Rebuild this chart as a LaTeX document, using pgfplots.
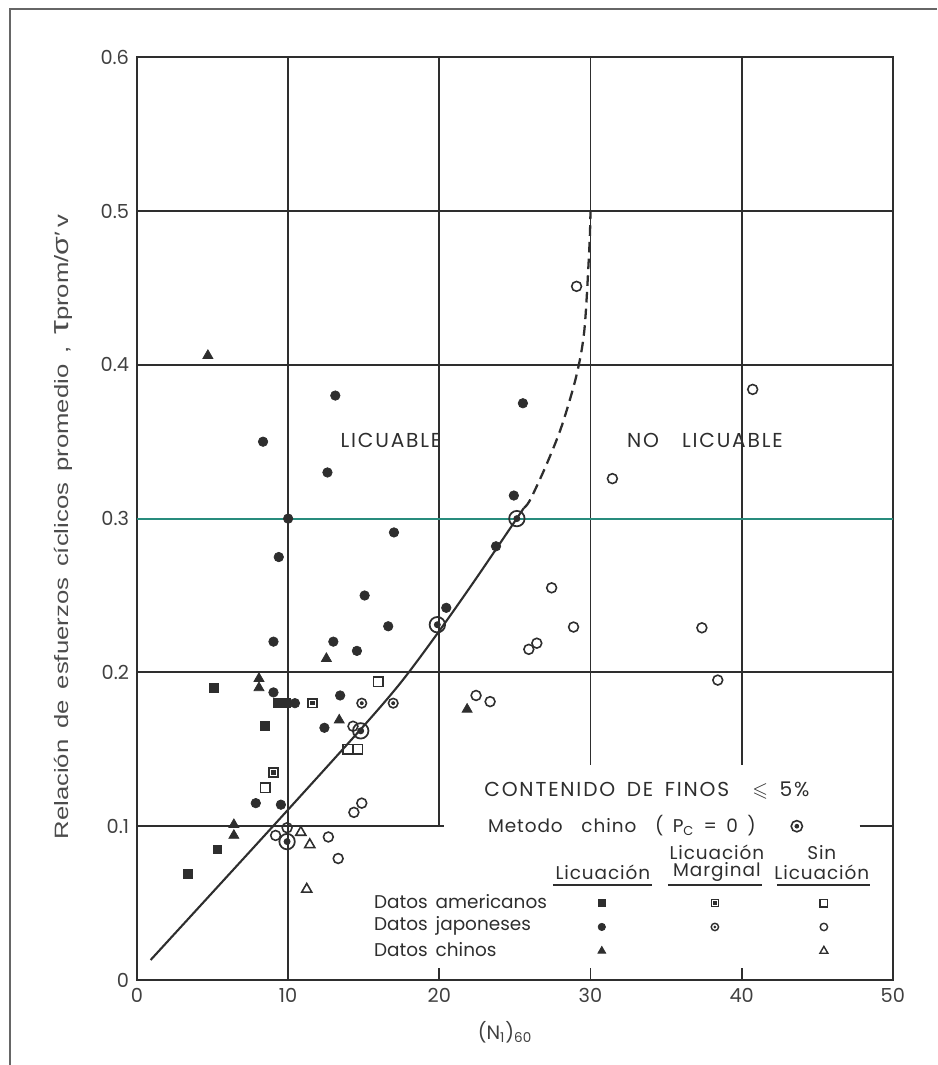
\documentclass[border=0pt]{standalone}
\usepackage{pgfplots}
\pgfplotsset{compat=1.18}
\usepackage{amssymb}
\usepackage{graphicx}
\usepackage{fontspec}
\setmainfont{Poppins}
\newfontfamily\legfont{Poppins}[WordSpace=1.6]
\newfontfamily\capfont{Poppins}[WordSpace=1.6, LetterSpace=9]
\newfontfamily\hdfont{Poppins}[WordSpace=1.6, LetterSpace=5]
\newfontfamily\labfont{Liberation Sans}
\definecolor{ink}{gray}{0.18}
\definecolor{tealline}{RGB}{40,140,125}
\pgfdeclareplotmark{odot}{%
  \pgfpathcircle{\pgfpoint{0pt}{0pt}}{\pgfplotmarksize}\pgfusepathqstroke
  \pgfpathcircle{\pgfpoint{0pt}{0pt}}{0.42\pgfplotmarksize}\pgfusepathqfill}
\pgfdeclareplotmark{sqdot}{%
  \pgfpathrectangle{\pgfpoint{-\pgfplotmarksize}{-\pgfplotmarksize}}{\pgfpoint{2\pgfplotmarksize}{2\pgfplotmarksize}}\pgfusepathqstroke
  \pgfpathrectangle{\pgfpoint{-0.5\pgfplotmarksize}{-0.5\pgfplotmarksize}}{\pgfpoint{\pgfplotmarksize}{\pgfplotmarksize}}\pgfusepathqfill}
\pgfdeclareplotmark{chino}{%
  \pgfpathcircle{\pgfpoint{0pt}{0pt}}{\pgfplotmarksize}\pgfusepathqstroke
  \pgfpathcircle{\pgfpoint{0pt}{0pt}}{0.45\pgfplotmarksize}\pgfusepathqfill}
\tikzset{
  gridl/.style={line width=1.1pt, ink},
  jliq/.style={only marks, mark=*, mark size=2.7pt, ink},
  jmar/.style={only marks, mark=odot, mark size=2.7pt, ink, mark options={line width=0.9pt}},
  jno/.style={only marks, mark=o, mark size=2.8pt, ink, mark options={line width=0.9pt}},
  aliq/.style={only marks, mark=square*, mark size=2.5pt, ink},
  amar/.style={only marks, mark=sqdot, mark size=2.5pt, ink, mark options={line width=0.9pt}},
  ano/.style={only marks, mark=square, mark size=2.7pt, ink, mark options={line width=0.9pt}},
  cliq/.style={only marks, mark=triangle*, mark size=3.3pt, ink},
  cno/.style={only marks, mark=triangle, mark size=3.3pt, ink, mark options={line width=0.9pt}},
  cmet/.style={only marks, mark=chino, mark size=4.4pt, ink, mark options={line width=1pt}},
  leg/.style={font=\legfont\fontsize{10.5}{12}\selectfont, text=ink},
  hd/.style={font=\hdfont\fontsize{10.5}{12}\selectfont, text=ink},
}
\begin{document}
\begin{tikzpicture}[x=0.02cm,y=0.02cm]
\useasboundingbox (0,0) rectangle (937,1065);
\draw[line width=0.8pt, black!60] (10,0) -- (10,1056) -- (937,1056);
\begin{axis}[
  at={(2.74cm,1.7cm)}, anchor=south west,
  scale only axis, width=15.12cm, height=18.46cm,
  xmin=0, xmax=50, ymin=0, ymax=0.6,
  xtick={0,10,20,30,40,50},
  ytick={0,0.1,0.2,0.3,0.4,0.5,0.6},
  yticklabels={0,0.1,0.2,0.3,0.4,0.5,0.6},
  major tick length=0pt,
  axis line style={line width=1.4pt, ink},
  /pgf/number format/assume math mode=true,
  tick label style={font=\legfont\fontsize{11}{13}\selectfont, text=black!75},
  xticklabel style={yshift=-1pt},
  yticklabel style={xshift=-1pt},
  clip=false,
]
% grid
\draw[gridl] (axis cs:10,0) -- (axis cs:10,0.6);
\draw[gridl] (axis cs:20,0.1) -- (axis cs:20,0.6);
\draw[gridl] (axis cs:30,0.14) -- (axis cs:30,0.6);
\draw[gridl] (axis cs:40,0.14) -- (axis cs:40,0.6);
\draw[gridl] (axis cs:20,0) -- (axis cs:20,0.008);
\draw[gridl] (axis cs:30,0) -- (axis cs:30,0.008);
\draw[gridl] (axis cs:40,0) -- (axis cs:40,0.008);
\draw[gridl] (axis cs:0,0.1) -- (axis cs:20.3,0.1);
\draw[gridl] (axis cs:47.8,0.1) -- (axis cs:50,0.1);
\draw[gridl] (axis cs:0,0.2) -- (axis cs:50,0.2);
\draw[line width=1.1pt, tealline] (axis cs:0,0.3) -- (axis cs:50,0.3);
\draw[gridl] (axis cs:0,0.4) -- (axis cs:50,0.4);
\draw[gridl] (axis cs:0,0.5) -- (axis cs:50,0.5);

% boundary curve
\addplot[smooth, line width=1.2pt, ink] coordinates {
 (0.9,0.013) (9.0,0.100) (14.8,0.163) (17.5,0.194) (20.0,0.227) (22.5,0.262) (25.6,0.307)};
\addplot[smooth, line width=1.3pt, ink, dash pattern=on 6pt off 3.5pt] coordinates {
 (25.6,0.307) (26.0,0.312) (27.04,0.334) (28.09,0.360) (29.07,0.393) (29.6,0.423) (29.93,0.477) (30.0,0.5)};

% Japanese - liquefaction
\addplot[jliq] coordinates {
 (13.12,0.380) (8.34,0.350) (12.60,0.330) (10.0,0.300) (17.0,0.291) (23.75,0.282)
 (9.38,0.275) (15.06,0.250) (20.46,0.242) (16.62,0.230) (9.03,0.220) (12.99,0.220)
 (14.55,0.214) (9.03,0.187) (13.44,0.185) (12.40,0.164) (7.86,0.115) (9.52,0.114)
 (25.53,0.375) (24.93,0.315) (10.45,0.180)};
% Japanese - marginal
\addplot[jmar] coordinates {(14.87,0.180) (16.95,0.180)};
% Japanese - no liquefaction
\addplot[jno] coordinates {
 (29.08,0.451) (40.73,0.384) (31.45,0.326) (27.43,0.255) (28.88,0.2295) (25.92,0.215)
 (26.45,0.219) (37.37,0.229) (38.42,0.195) (22.43,0.185) (23.36,0.181) (14.29,0.165)
 (14.35,0.109) (14.87,0.115) (9.17,0.094) (9.93,0.099) (12.66,0.093) (13.31,0.079)};
% American - liquefaction
\addplot[aliq] coordinates {
 (5.10,0.190) (8.48,0.165) (9.31,0.180) (9.86,0.180) (5.31,0.085) (3.38,0.069)};
% American - marginal
\addplot[amar] coordinates {(11.62,0.180) (9.03,0.135)};
% American - no liquefaction
\addplot[ano] coordinates {(15.97,0.194) (13.96,0.150) (14.61,0.150) (8.48,0.125)};
% Chinese - liquefaction
\addplot[cliq] coordinates {
 (4.69,0.406) (12.53,0.209) (8.07,0.196) (8.07,0.190) (13.38,0.169)
 (6.41,0.101) (6.41,0.094) (21.84,0.176)};
% Chinese - no liquefaction
\addplot[cno] coordinates {(10.84,0.096) (11.43,0.088) (11.23,0.059)};
% Chinese method
\addplot[cmet] coordinates {(9.93,0.090) (14.8,0.162) (19.87,0.231) (25.13,0.300)};

% region labels
\node[font=\capfont\fontsize{11.5}{13}\selectfont, text=ink] at (axis cs:16.8,0.351) {LICUABLE};
\node[font=\capfont\fontsize{11.5}{13}\selectfont, text=ink] at (axis cs:37.57,0.351) {NO\ \ LICUABLE};

% legend block
\node[font=\capfont\fontsize{11.5}{13}\selectfont, text=ink] at (axis cs:33.73,0.1235) {CONTENIDO DE FINOS \ $\leqslant$ 5\%};
\node[font=\hdfont\fontsize{10.5}{13}\selectfont, text=ink, anchor=east] at (axis cs:41.34,0.1001) {Metodo\ \ chino\ \ (\ P\textsubscript{C}\ =\ 0\ )};
\addplot[only marks, mark=odot, mark size=3.2pt, ink, mark options={line width=0.9pt}] coordinates {(43.65,0.100)};
\node[hd] at (axis cs:30.82,0.0702) {Licuación};
\node[hd] at (axis cs:38.36,0.0832) {Licuación};
\node[hd] at (axis cs:38.36,0.0702) {Marginal};
\node[hd] at (axis cs:45.30,0.0832) {Sin};
\node[hd] at (axis cs:45.30,0.0702) {Licuación};
\draw[line width=0.8pt, ink] (axis cs:27.51,0.0618) -- (axis cs:34.06,0.0618);
\draw[line width=0.8pt, ink] (axis cs:35.12,0.0618) -- (axis cs:41.34,0.0618);
\draw[line width=0.8pt, ink] (axis cs:42.33,0.0618) -- (axis cs:48.48,0.0618);
\node[leg, anchor=west] at (axis cs:15.28,0.0507) {Datos americanos};
\node[leg, anchor=west] at (axis cs:15.28,0.0351) {Datos japoneses};
\node[leg, anchor=west] at (axis cs:15.28,0.0195) {Datos chinos};
\addplot[only marks, mark=square*, mark size=1.9pt, ink] coordinates {(30.75,0.050)};
\addplot[only marks, mark=sqdot, mark size=1.9pt, ink, mark options={line width=0.8pt}] coordinates {(38.23,0.050)};
\addplot[only marks, mark=square, mark size=2.1pt, ink, mark options={line width=0.8pt}] coordinates {(45.44,0.050)};
\addplot[only marks, mark=*, mark size=2.1pt, ink] coordinates {(30.75,0.0345)};
\addplot[only marks, mark=odot, mark size=2.1pt, ink, mark options={line width=0.8pt}] coordinates {(38.23,0.0345)};
\addplot[only marks, mark=o, mark size=2.1pt, ink, mark options={line width=0.8pt}] coordinates {(45.44,0.0345)};
\addplot[only marks, mark=triangle*, mark size=2.6pt, ink] coordinates {(30.75,0.0189)};
\addplot[only marks, mark=triangle, mark size=2.6pt, ink, mark options={line width=0.8pt}] coordinates {(45.44,0.0189)};
\end{axis}
\node[rotate=90, font=\labfont\fontsize{11}{13}\selectfont, text=black!70] at (63,538)
  {\scalebox{1.33}[1]{\makebox[9.4cm][s]{Relación de esfuerzos cíclicos promedio , {\fontsize{15}{15}\selectfont τ}prom/{\fontsize{13}{13}\selectfont σ}′\,v}}};
\node[font=\legfont\fontsize{11}{13}\selectfont, text=black!75] at (505,33) {(N\textsubscript{1})\textsubscript{60}};
\end{tikzpicture}
\end{document}
